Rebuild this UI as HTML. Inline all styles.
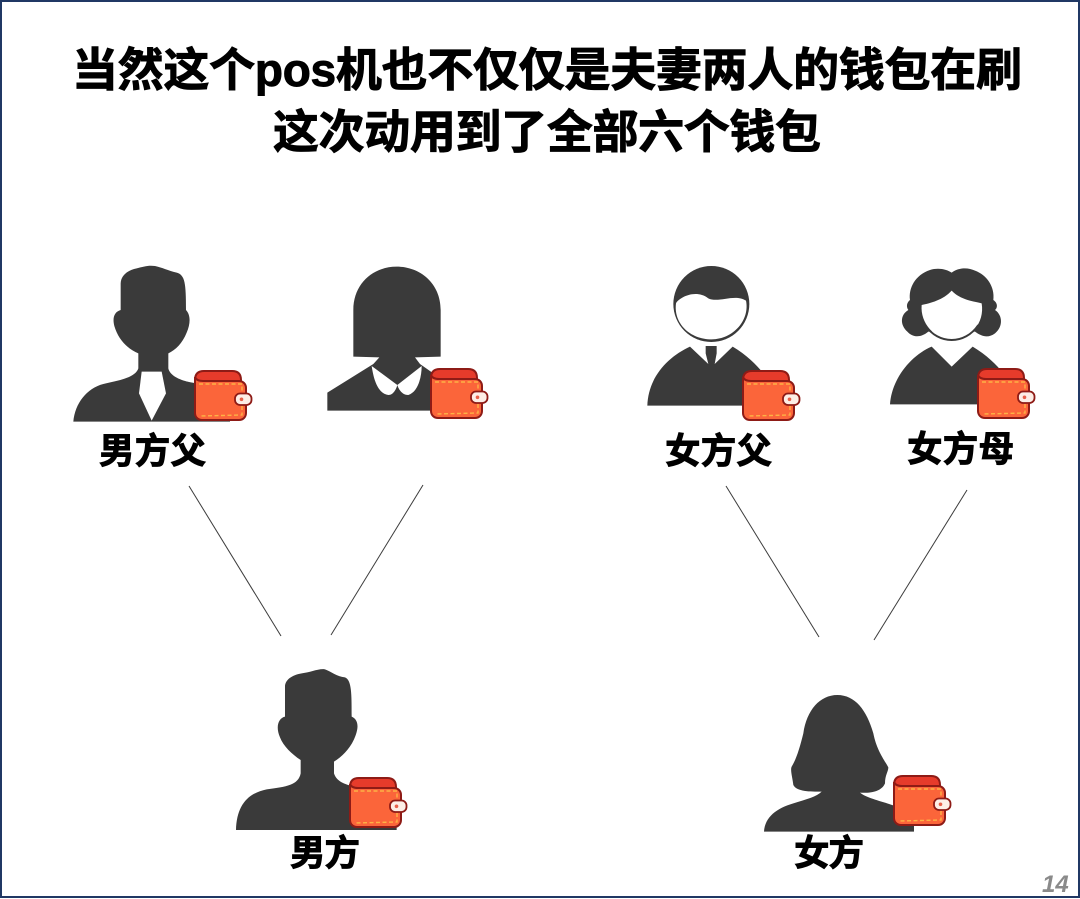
<!DOCTYPE html>
<html lang="zh">
<head>
<meta charset="utf-8">
<style>
html,body{margin:0;padding:0;background:#fff}
svg{display:block}
text{font-family:"Liberation Sans","Noto Sans CJK SC",sans-serif;font-weight:700;fill:#000;stroke:#000;stroke-width:.9px}
</style>
</head>
<body>
<svg xmlns="http://www.w3.org/2000/svg" width="1080" height="899" viewBox="0 0 1080 899">
<defs>
<g id="w">
  <path d="M1 10 C1 4 4 1 10 1 L38 1 C44 1 47 4 47 10 L47 12 L1 12Z" fill="#e63b2b" stroke="#8e1b16" stroke-width="2"/>
  <path d="M1 7 C2 10 5 11 9 11 L45 11 C49 11 52 14 52 18 L52 43 C52 47 49 50 45 50 L8 50 C4 50 1 47 1 43Z" fill="#fb653a" stroke="#8e1b16" stroke-width="2"/>
  <path d="M5 14 L48 14 L48 45 L6 46" fill="none" stroke="#fdb245" stroke-width="1.400" stroke-dasharray="4 2.500"/>
  <rect x="41" y="23.500" width="16.500" height="11.500" rx="5" fill="#fdeee6" stroke="#8e1b16" stroke-width="1.800"/>
  <circle cx="47.500" cy="29.300" r="1.800" fill="#e8604a"/>
</g>
</defs>
<rect width="1080" height="899" fill="#fff"/>
<rect x="1" y="1" width="1078" height="896" fill="none" stroke="#203864" stroke-width="2"/>

<text x="72" y="86" font-size="46" textLength="950" lengthAdjust="spacing">当然这个pos机也不仅仅是夫妻两人的钱包在刷</text>
<text x="273" y="148" font-size="46" textLength="548" lengthAdjust="spacing">这次动用到了全部六个钱包</text>

<!-- male father -->
<g transform="translate(60,260) scale(.33333)">
  <path fill="#3a3a3a" d="M40 485 C45 430 80 385 130 372 C170 362 225 355 235 325 L235 280 C205 268 175 240 163 198 C156 170 165 155 182 150 L182 70 C183 45 205 30 230 25 C250 20 265 15 285 18 C305 22 325 32 350 38 C375 45 378 70 378 150 C392 165 392 190 380 218 C367 250 347 270 325 280 L325 325 C330 350 370 365 410 370 L410 470 L510 470 L510 485Z"/>
  <path fill="#fff" d="M245 335 L305 335 L318 400 L275 482 L237 400Z"/>
</g>
<use href="#w" x="194" y="370"/>

<!-- male mother -->
<g transform="translate(320,260) scale(.33333)">
  <path fill="#3a3a3a" d="M100 290 L100 150 C100 70 160 20 230 20 C300 20 362 70 362 150 L362 290 L285 292 L300 312 L340 340 L340 452 L22 452 L22 398 L160 312 L178 292Z"/>
  <path fill="#fff" d="M155 318 L232 375 L305 318 C305 350 295 395 265 405 C240 405 232 375 232 375 C232 375 225 405 205 405 C170 400 160 350 155 318Z"/>
</g>
<use href="#w" x="430" y="368"/>

<!-- female father -->
<g transform="translate(640,260) scale(.33333)">
  <circle cx="214" cy="132" r="114" fill="#3a3a3a"/>
  <path fill="#fff" d="M108 130 C115 115 165 85 205 115 C235 130 285 100 318 122 C330 180 280 238 215 238 C150 238 100 190 108 130Z"/>
  <path fill="#3a3a3a" d="M22 437 C25 350 85 290 150 260 L205 312 L197 280 L197 258 L230 258 L230 280 L224 312 L278 260 C320 285 350 315 370 340 L370 437Z"/>
</g>
<use href="#w" x="742" y="370"/>

<!-- female mother -->
<g transform="translate(880,260) scale(.33333)">
  <path fill="#3a3a3a" d="M90 120 C85 85 105 45 150 30 C175 22 200 28 215 38 C235 22 265 22 285 32 C320 45 345 80 340 120 C355 130 352 145 345 150 C368 165 370 200 345 220 C325 235 305 230 285 215 L145 215 C125 232 100 235 82 215 C60 195 60 165 85 150 C78 140 80 128 90 120Z"/>
  <path fill="#fff" d="M125 135 C150 130 190 120 215 92 C240 120 285 125 305 130 C315 190 270 238 215 240 C165 238 120 190 125 135Z"/>
  <path fill="none" stroke="#3a3a3a" stroke-width="6" d="M135 195 C155 225 185 240 215 240 C245 240 275 225 295 195"/>
  <path fill="#3a3a3a" d="M30 433 C35 355 95 285 155 260 L215 320 L278 260 C320 285 350 315 370 340 L370 433Z"/>
</g>
<use href="#w" x="977" y="368"/>

<!-- male -->
<g transform="translate(230,660) scale(.33333)">
  <path fill="#3a3a3a" d="M18 510 C20 440 50 400 110 388 C170 380 205 375 212 340 L212 300 C185 282 160 258 150 232 C136 200 145 175 165 170 L165 80 C165 60 185 45 215 40 C240 38 265 25 285 28 C305 35 320 50 345 52 C365 60 365 100 365 170 C387 180 387 205 372 238 C357 270 335 290 312 305 L312 340 C320 365 345 372 365 378 L365 490 L500 490 L500 510Z"/>
</g>
<use href="#w" x="349" y="777"/>

<!-- female -->
<g transform="translate(760,680) scale(.33333)">
  <path fill="#3a3a3a" d="M12 455 C15 410 50 385 100 370 C140 358 170 350 185 335 C150 335 110 335 100 315 C98 295 90 270 95 260 C110 235 120 200 130 160 C140 90 180 45 232 45 C285 45 320 90 340 160 C350 210 370 235 385 262 C385 275 375 285 375 310 C365 335 330 340 300 338 C320 355 370 365 405 378 L405 430 L462 430 L462 455Z"/>
</g>
<use href="#w" x="893" y="775"/>

<!-- labels -->
<text x="99" y="463" font-size="35.500" textLength="107">男方父</text>
<text x="665" y="463" font-size="35.500" textLength="107">女方父</text>
<text x="907" y="461" font-size="35.500" textLength="107">女方母</text>
<text x="290" y="865" font-size="35.500" textLength="70">男方</text>
<text x="794" y="865" font-size="35.500" textLength="70">女方</text>

<!-- connectors -->
<g stroke="#3c3c3c" stroke-width="1" fill="none">
  <line x1="189" y1="486" x2="281" y2="636"/>
  <line x1="423" y1="485" x2="331" y2="635"/>
  <line x1="726" y1="486" x2="819" y2="637"/>
  <line x1="967" y1="490" x2="874" y2="640"/>
</g>

<text x="1042" y="892" font-size="24" font-style="italic" style="fill:#8a8a8a;stroke:none;font-family:'Liberation Sans',sans-serif">14</text>
</svg>
</body>
</html>
